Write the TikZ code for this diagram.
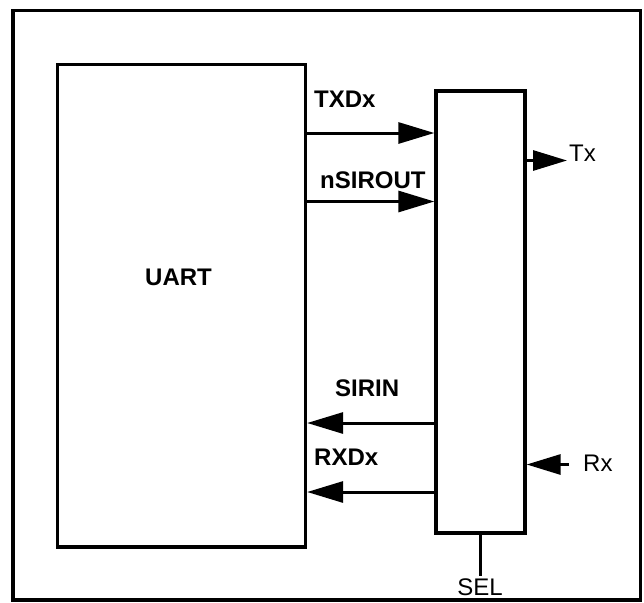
\documentclass[tikz,border=0pt]{standalone}
\usepackage{fontspec}
\setmainfont{Liberation Sans}
\usetikzlibrary{arrows.meta}
\begin{document}
\begin{tikzpicture}[x=1pt, y=-1pt,
  blk/.style={draw, line width=3.3pt, inner sep=0pt},
  sig/.style={line width=3pt, -{Triangle[length=36pt, width=21pt]}},
  lbl/.style={font=\fontsize{24}{28}\selectfont\bfseries, inner sep=0pt},
  pin/.style={font=\fontsize{24}{28}\selectfont, inner sep=0pt}]
  \useasboundingbox (0,0) rectangle (644,602);
  \draw[line width=3.3pt] (13,10.5) rectangle (640.5,600);
  \node[blk, minimum width=248pt, minimum height=482.5pt] (uart) at (181.5,305.75) {};
  \node[lbl] (uartlbl) at (178.5,277) {UART};
  \node[blk, minimum width=89pt, minimum height=442pt] (mux) at (480.5,312) {};
  % pins on the mux
  \coordinate (txd) at (mux.west |- 0,133);
  \coordinate (sirout) at (mux.west |- 0,201.5);
  \coordinate (sirin) at (mux.west |- 0,423);
  \coordinate (rxd) at (mux.west |- 0,492);
  \coordinate (txo) at (567,160.5);
  \coordinate (rxi) at (569,464.5);
  \coordinate (sel) at (480,576);
  \draw[sig] (uart.east |- txd) -- (txd);
  \draw[sig] (uart.east |- sirout) -- (sirout);
  \draw[sig] (sirin) -- (uart.east |- sirin);
  \draw[sig] (rxd) -- (uart.east |- rxd);
  \draw[sig, -{Triangle[length=34pt, width=20pt]}] (mux.east |- txo) -- (txo);
  \draw[sig, -{Triangle[length=34pt, width=20pt]}] (rxi) -- (mux.east |- rxi);
  \draw[line width=3pt] (mux.south -| sel) -- (sel);
  \node[lbl, anchor=west] (txdlbl) at (314,99) {TXDx};
  \node[lbl, anchor=west] (siroutlbl) at (320,180) {nSIROUT};
  \node[lbl, anchor=west] (sirinlbl) at (335,388.5) {SIRIN};
  \node[lbl, anchor=west] (rxdlbl) at (314,457) {RXDx};
  \node[pin, anchor=west] (txlbl) at (569,153) {Tx};
  \node[pin, anchor=west] (rxlbl) at (583,463) {Rx};
  \node[pin] (sellbl) at (480,587) {SEL};
\end{tikzpicture}
\end{document}
